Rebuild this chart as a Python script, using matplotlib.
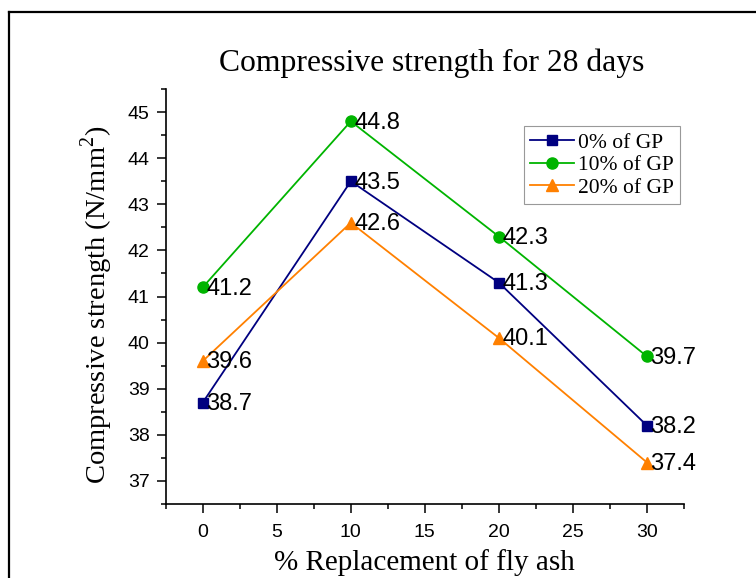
import matplotlib
matplotlib.use("Agg")
import matplotlib.pyplot as plt
from matplotlib.lines import Line2D
from matplotlib.ticker import MultipleLocator


# data
replacement = [0, 10, 20, 30]
gp0 = [38.7, 43.5, 41.3, 38.2]
gp10 = [41.2, 44.8, 42.3, 39.7]
gp20 = [39.6, 42.6, 40.1, 37.4]
labels = ["0% of GP", "10% of GP", "20% of GP"]

serif = "Liberation Serif"
sans = "Liberation Sans"
plt.rcParams["mathtext.fontset"] = "custom"
plt.rcParams["mathtext.rm"] = serif

fig = plt.figure(figsize=(7.56, 5.78), dpi=100)
ax = fig.add_axes([0.2192, 0.128, 0.9048 - 0.2192, 0.846 - 0.128])

series = [
    (gp0, "#000080", "s", 7),
    (gp10, "#00B400", "o", 8),
    (gp20, "#FF8000", "^", 9),
]

for (vals, col, mk, ms), lab in zip(series, labels):
    ax.plot(replacement, vals, color=col, marker=mk, markersize=ms, lw=1.3, label=lab)
    for xv, yv in zip(replacement, vals):
        ax.annotate(f"{yv:.1f}", (xv, yv), xytext=(2.5, -1), textcoords="offset points",
                    ha="left", va="center", fontsize=17, family=sans, color="black")

ax.set_xlim(-2.5, 32.5)
ax.set_ylim(36.5, 45.5)
ax.xaxis.set_major_locator(MultipleLocator(5))
ax.xaxis.set_minor_locator(MultipleLocator(2.5))
ax.yaxis.set_major_locator(MultipleLocator(1))
ax.yaxis.set_minor_locator(MultipleLocator(0.5))

for s in ["top", "right"]:
    ax.spines[s].set_visible(False)
for s in ["left", "bottom"]:
    ax.spines[s].set_linewidth(1.2)

ax.tick_params(which="major", direction="out", length=6.5, width=1.1, labelsize=14, pad=5)
ax.tick_params(axis="x", which="major", pad=8)
ax.tick_params(which="minor", direction="out", length=3.5, width=1.1)
for t in ax.get_xticklabels() + ax.get_yticklabels():
    t.set_family(sans)

ax.set_xlabel("% Replacement of fly ash", fontsize=21, family=serif, labelpad=6)
ax.set_ylabel("Compressive strength (N/mm$^2$)", fontsize=20.5, family=serif)
ax.yaxis.set_label_coords(-0.098, 0.48)

fig.text(432 / 756, 1 - 63 / 578, "Compressive strength for 28 days",
         ha="center", va="center", fontsize=22.8, family=serif)

leg = ax.legend(loc="upper left", bbox_to_anchor=((524 - 165.7) / (684 - 165.7), (504 - 126) / (504 - 89)),
                prop={"family": serif, "size": 15.5}, fancybox=False, framealpha=1,
                edgecolor="#999999", handlelength=2.0, borderpad=0.3, labelspacing=0.12,
                handletextpad=0.2, borderaxespad=0)
leg.get_frame().set_linewidth(0.8)

# outer frame (only top and left edges are visible in the crop)
fig.add_artist(Line2D([9 / 756, 9 / 756], [0, 1 - 11.5 / 578], color="black", lw=1.6))
fig.add_artist(Line2D([9 / 756, 1], [1 - 11.5 / 578, 1 - 11.5 / 578], color="black", lw=1.6))

fig.savefig("out.png", dpi=100)
